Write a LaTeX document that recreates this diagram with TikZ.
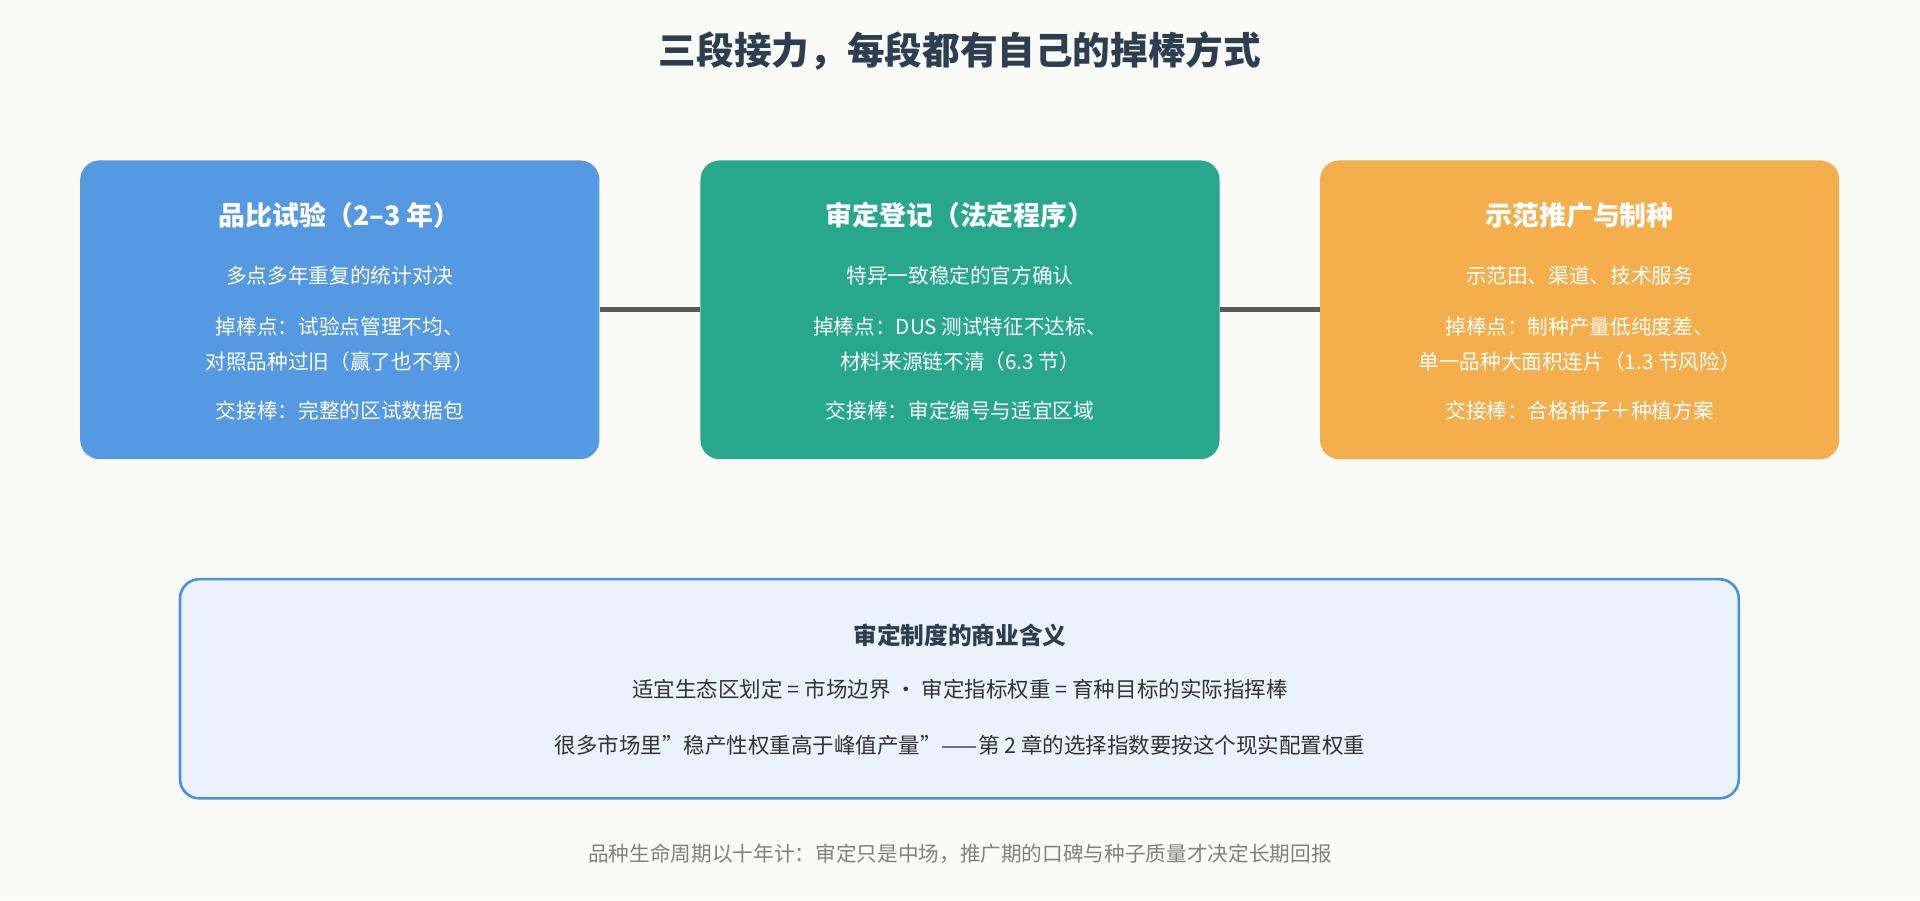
\documentclass[tikz,border=0pt]{standalone}
\usepackage{fontspec}
\setmainfont{Noto Sans CJK SC}
\definecolor{bgc}{HTML}{FAFAF7}
\definecolor{bluec}{HTML}{5599E3}
\definecolor{greenc}{HTML}{27A88C}
\definecolor{orangec}{HTML}{F4AE4B}
\definecolor{darkc}{HTML}{2C3E50}
\definecolor{notec}{HTML}{EAF2FB}
\definecolor{edgec}{HTML}{4A90E2}
\begin{document}
\begin{tikzpicture}[x=0.02cm, y=-0.02cm,
  stage/.style={rounded corners=9pt, minimum width=424*0.02cm, minimum height=244*0.02cm},
  head/.style={text=white, font=\fontsize{12.5}{14}\selectfont\bfseries},
  body/.style={text=white, font=\fontsize{9.6}{12}\selectfont},
  link/.style={draw=black!65, line width=2.2pt}]
\fill[bgc] (0,0) rectangle (1568,735);
\node[text=darkc, font=\fontsize{17.5}{20}\selectfont\bfseries] (title) at (784,42) {三段接力，每段都有自己的掉棒方式};

\node[stage, fill=bluec] (s1) at (277.5,253) {};
\node[stage, fill=greenc] (s2) at (784,253) {};
\node[stage, fill=orangec] (s3) at (1290,253) {};

\draw[link] (s1) -- (s2);
\draw[link] (s2) -- (s3);

\node[head] (h1) at (277.5,176) {品比试验（2–3 年）};
\node[body] (a1) at (277.5,225) {多点多年重复的统计对决};
\node[body, align=center] (b1) at (277.5,281) {掉棒点：试验点管理不均、\\[4pt]对照品种过旧（赢了也不算）};
\node[body] (c1) at (277.5,335) {交接棒：完整的区试数据包};

\node[head] (h2) at (784,176) {审定登记（法定程序）};
\node[body] (a2) at (784,225) {特异一致稳定的官方确认};
\node[body, align=center] (b2) at (784,281) {掉棒点：DUS 测试特征不达标、\\[4pt]材料来源链不清（6.3 节）};
\node[body] (c2) at (784,335) {交接棒：审定编号与适宜区域};

\node[head] (h3) at (1290,176) {示范推广与制种};
\node[body] (a3) at (1290,225) {示范田、渠道、技术服务};
\node[body, align=center] (b3) at (1290,281) {掉棒点：制种产量低纯度差、\\[4pt]单一品种大面积连片（1.3 节风险）};
\node[body] (c3) at (1290,335) {交接棒：合格种子＋种植方案};

\draw[edgec, fill=notec, line width=1.2pt, rounded corners=9pt] (147,473) rectangle (1420,652);
\node[text=darkc, font=\fontsize{11}{13}\selectfont\bfseries] (nt) at (784,519) {审定制度的商业含义};
\node[text=black!80, font=\fontsize{10}{12}\selectfont] (n1) at (784,563) {适宜生态区划定 = 市场边界 · 审定指标权重 = 育种目标的实际指挥棒};
\node[text=black!80, font=\fontsize{10}{12}\selectfont] (n2) at (784,609) {很多市场里"稳产性权重高于峰值产量"——第 2 章的选择指数要按这个现实配置权重};

\node[text=black!50, font=\fontsize{9.6}{12}\selectfont] (foot) at (784,697) {品种生命周期以十年计：审定只是中场，推广期的口碑与种子质量才决定长期回报};
\end{tikzpicture}
\end{document}
